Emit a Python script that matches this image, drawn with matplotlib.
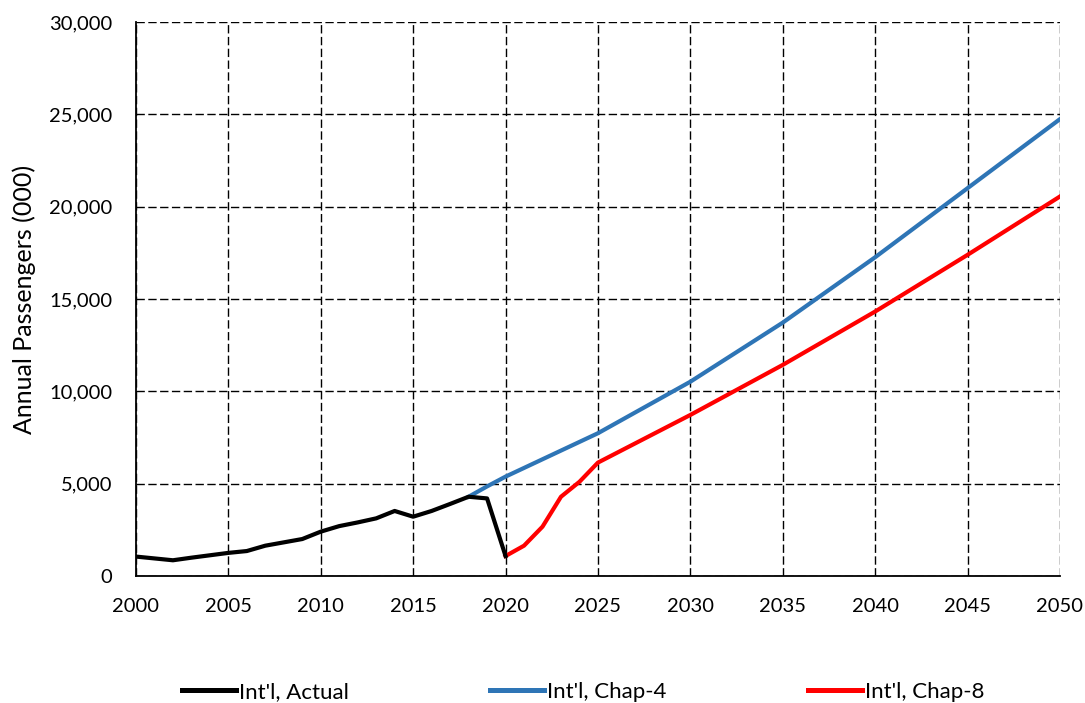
import matplotlib
matplotlib.use("Agg")
import matplotlib.pyplot as plt
from matplotlib.ticker import FuncFormatter, MultipleLocator

plt.rcParams['font.family'] = ['Lato', 'DejaVu Sans']

# Historical international passengers (thousands)
actual_years = list(range(2000, 2021))
actual_vals = [1050, 950, 850, 990, 1120, 1250, 1350, 1640, 1820, 2000, 2400,
               2700, 2900, 3120, 3520, 3210, 3520, 3900, 4290, 4200, 1080]

# Chapter 4 forecast
chap4_years = [2018, 2019, 2020, 2025, 2030, 2035, 2040, 2045, 2050]
chap4_vals = [4290, 4850, 5380, 7730, 10520, 13720, 17260, 21000, 24740]

# Chapter 8 forecast (post-2020 recovery)
chap8_years = [2020, 2021, 2022, 2023, 2024, 2025, 2030, 2035, 2040, 2045, 2050]
chap8_vals = [1080, 1640, 2670, 4290, 5100, 6140, 8720, 11430, 14320, 17390, 20550]

labels = ["Int'l, Actual", "Int'l, Chap-4", "Int'l, Chap-8"]

fig = plt.figure(figsize=(10.85, 7.03), dpi=100)
ax = fig.add_axes([0.1253, 0.1807, 0.8516, 0.7880])

l4, = ax.plot(chap4_years, chap4_vals, color='#2E75B6', lw=3, zorder=3)
l8, = ax.plot(chap8_years, chap8_vals, color='#FF0000', lw=3, zorder=3)
la, = ax.plot(actual_years, actual_vals, color='black', lw=3, zorder=4)

ax.set_xlim(2000, 2050)
ax.set_ylim(0, 30000)
ax.xaxis.set_major_locator(MultipleLocator(5))
ax.yaxis.set_major_locator(MultipleLocator(5000))
ax.yaxis.set_major_formatter(FuncFormatter(lambda v, p: f"{int(v):,}"))

ax.grid(True, color='black', linestyle=(0, (6, 2.5)), linewidth=1.0)
ax.set_axisbelow(True)
for s in ['top', 'right']:
    ax.spines[s].set_visible(False)
for s in ['left', 'bottom']:
    ax.spines[s].set_color('black')
    ax.spines[s].set_linewidth(1.3)

ax.tick_params(axis='both', length=0, labelsize=14.5, colors='black')
ax.tick_params(axis='y', pad=17)
ax.tick_params(axis='x', pad=16)

ax.set_ylabel("Annual Passengers (000)", fontsize=18)
ax.yaxis.set_label_coords(-0.108, 0.5)

# Legend entries spread evenly across the bottom of the figure
entries = [(la, labels[0], 0.168), (l4, labels[1], 0.452), (l8, labels[2], 0.745)]
for handle, text, xpos in entries:
    leg = fig.legend([handle], [text], loc='center left',
                     bbox_to_anchor=(xpos, 0.0156), frameon=False,
                     fontsize=16, handlelength=2.43, handletextpad=0.13,
                     borderpad=0, borderaxespad=0)
    for line in leg.get_lines():
        line.set_linewidth(3.6)

fig.savefig("out.png", dpi=100)
